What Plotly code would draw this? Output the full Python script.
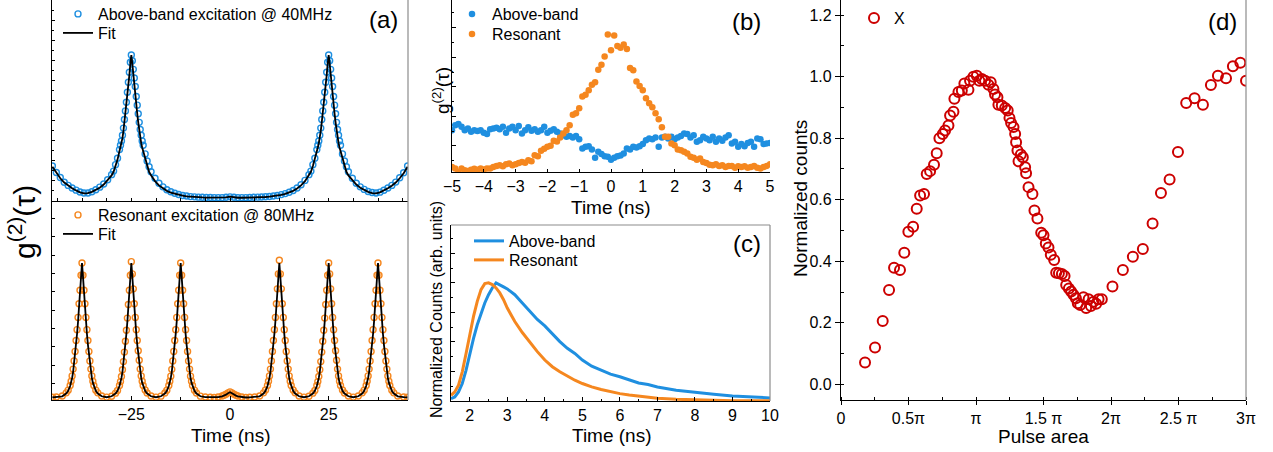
import plotly.graph_objects as go

# ---------------- data ----------------
# (a) top : above-band excitation @ 40 MHz
t_above = [-45, -44, -43, -42, -41, -40, -39, -38, -37, -36, -35, -34, -33, -32, -31, -30,
           -29.5, -29, -28.5,
           -28, -27.75, -27.5, -27.25, -27, -26.75, -26.5, -26.25, -26, -25.75, -25.5, -25.25, -25,
           -24.75, -24.5, -24.25, -24, -23.75, -23.5, -23.25, -23, -22.75, -22.5, -22.25, -22,
           -21.5, -21, -20.5,
           -20, -19, -18, -17, -16, -15, -14, -13, -12, -11, -10, -9, -8, -7, -6, -5, -4, -3, -2, -1,
           0, 1, 2, 3, 4, 5, 6, 7, 8, 9, 10, 11, 12, 13, 14, 15, 16, 17, 18, 19, 20,
           20.5, 21, 21.5,
           22, 22.25, 22.5, 22.75, 23, 23.25, 23.5, 23.75, 24, 24.25, 24.5, 24.75, 25,
           25.25, 25.5, 25.75, 26, 26.25, 26.5, 26.75, 27, 27.25, 27.5, 27.75, 28,
           28.5, 29, 29.5,
           30, 31, 32, 33, 34, 35, 36, 37, 38, 39, 40, 41, 42, 43, 44, 45]
g2_above_data = [.225, .18, .145, .112, .09, .072, .057, .044, .037, .037, .046, .06, .078, .10, .13, .165,
                 .19, .235, .28,
                 .34, .37, .40, .44, .49, .55, .61, .67, .74, .81, .88, .95, 1.0,
                 .96, .90, .84, .78, .71, .65, .59, .53, .48, .44, .40, .37,
                 .31, .26, .22,
                 .185, .14, .105, .08, .06, .046, .035, .027, .02, .016, .012, .01, .008, .007, .006, .006, .005, .005, .005, .007,
                 .01, .007, .005, .005, .005, .006, .007, .008, .009, .011, .013, .016, .02, .026, .033, .042, .055, .072, .095, .125, .165,
                 .19, .235, .28,
                 .34, .37, .40, .44, .49, .55, .61, .67, .74, .81, .88, .95, 1.0,
                 .96, .90, .84, .78, .71, .65, .59, .53, .48, .44, .40, .37,
                 .31, .26, .22,
                 .185, .14, .105, .08, .062, .048, .04, .037, .043, .056, .072, .09, .113, .143, .178, .225]
g2_above_fit = [.22, .175, .14, .11, .088, .07, .055, .042, .035, .036, .045, .058, .074, .096, .125, .16,
                .185, .225, .27,
                .33, .355, .385, .42, .47, .53, .59, .65, .72, .79, .86, .94, 1.0,
                .94, .86, .79, .72, .65, .59, .53, .47, .42, .385, .355, .33,
                .27, .225, .185,
                .16, .12, .09, .068, .052, .04, .031, .024, .018, .014, .011, .009, .007, .006, .005, .005, .004, .004, .004, .006,
                .012, .006, .004, .004, .004, .005, .005, .006, .007, .009, .011, .014, .018, .024, .031, .04, .052, .068, .09, .12, .16,
                .185, .225, .27,
                .33, .355, .385, .42, .47, .53, .59, .65, .72, .79, .86, .94, 1.0,
                .94, .86, .79, .72, .65, .59, .53, .47, .42, .385, .355, .33,
                .27, .225, .185,
                .16, .125, .096, .074, .058, .045, .036, .035, .042, .055, .07, .088, .11, .14, .175, .22]

# (a) bottom : resonant excitation @ 80 MHz
t_res = [-45, -44,
         -42.5, -41.5, -41, -40.5, -40.25, -40, -39.75, -39.5, -39.25, -39, -38.75, -38.5, -38.25, -38, -37.75,
         -37.5, -37.25, -37, -36.75, -36.5, -36.25, -36, -35.75, -35.5, -35.25, -35, -34.75, -34.5, -34, -33.5, -32.5,
         -31.25,
         -30, -29, -28.5, -28, -27.75, -27.5, -27.25, -27, -26.75, -26.5, -26.25, -26, -25.75, -25.5, -25.25,
         -25, -24.75, -24.5, -24.25, -24, -23.75, -23.5, -23.25, -23, -22.75, -22.5, -22.25, -22, -21.5, -21, -20,
         -18.75,
         -17.5, -16.5, -16, -15.5, -15.25, -15, -14.75, -14.5, -14.25, -14, -13.75, -13.5, -13.25, -13, -12.75,
         -12.5, -12.25, -12, -11.75, -11.5, -11.25, -11, -10.75, -10.5, -10.25, -10, -9.75, -9.5, -9, -8.5, -7.5,
         -6.25, -5, -4, -3, -2, -1.5, -1, -0.5, 0, 0.5, 1, 1.5, 2, 3, 4, 5, 6.25,
         7.5, 8.5, 9, 9.5, 9.75, 10, 10.25, 10.5, 10.75, 11, 11.25, 11.5, 11.75, 12, 12.25,
         12.5, 12.75, 13, 13.25, 13.5, 13.75, 14, 14.25, 14.5, 14.75, 15, 15.25, 15.5, 16, 16.5, 17.5,
         18.75,
         20, 21, 21.5, 22, 22.25, 22.5, 22.75, 23, 23.25, 23.5, 23.75, 24, 24.25, 24.5, 24.75,
         25, 25.25, 25.5, 25.75, 26, 26.25, 26.5, 26.75, 27, 27.25, 27.5, 27.75, 28, 28.5, 29, 30,
         31.25,
         32.5, 33.5, 34, 34.5, 34.75, 35, 35.25, 35.5, 35.75, 36, 36.25, 36.5, 36.75, 37, 37.25,
         37.5, 37.75, 38, 38.25, 38.5, 38.75, 39, 39.25, 39.5, 39.75, 40, 40.25, 40.5, 41, 41.5, 42.5,
         44, 45]
g2_res_data = [.013, .015,
               .022, .045, .065, .10, .13, .17, .22, .28, .35, .43, .51, .60, .70, .80, .91,
               1.0, .91, .80, .70, .60, .51, .43, .35, .28, .22, .17, .13, .10, .065, .045, .022,
               .014,
               .02, .043, .063, .10, .128, .165, .215, .275, .345, .425, .505, .595, .695, .80, .91,
               1.01, .92, .81, .70, .60, .51, .43, .355, .285, .22, .17, .13, .10, .066, .044, .022,
               .014,
               .021, .044, .064, .10, .13, .168, .218, .28, .35, .43, .51, .60, .70, .80, .91,
               1.0, .91, .80, .70, .60, .51, .43, .35, .28, .22, .168, .13, .10, .065, .044, .021,
               .015, .013, .012, .015, .022, .028, .035, .045, .052, .045, .035, .028, .022, .015, .012, .013, .015,
               .022, .045, .066, .10, .13, .17, .22, .28, .35, .43, .51, .60, .70, .81, .92,
               1.02, .92, .81, .70, .60, .51, .43, .35, .28, .22, .17, .13, .10, .066, .045, .022,
               .014,
               .02, .043, .063, .10, .128, .165, .215, .275, .345, .425, .505, .595, .695, .80, .91,
               1.0, .92, .81, .70, .60, .51, .43, .355, .285, .22, .17, .13, .10, .066, .044, .022,
               .014,
               .022, .045, .065, .10, .13, .17, .22, .28, .35, .43, .51, .60, .70, .80, .91,
               1.0, .91, .80, .70, .60, .51, .43, .35, .28, .22, .17, .13, .10, .065, .045, .022,
               .015, .013]
g2_res_fit = [.012, .014,
              .02, .04, .06, .095, .12, .155, .20, .26, .33, .40, .48, .57, .67, .78, .90,
              1.0, .90, .78, .67, .57, .48, .40, .33, .26, .20, .155, .12, .095, .06, .04, .02,
              .013,
              .02, .04, .06, .095, .12, .155, .20, .26, .33, .40, .48, .57, .67, .78, .90,
              1.0, .90, .78, .67, .57, .48, .40, .33, .26, .20, .155, .12, .095, .06, .04, .02,
              .013,
              .02, .04, .06, .095, .12, .155, .20, .26, .33, .40, .48, .57, .67, .78, .90,
              1.0, .90, .78, .67, .57, .48, .40, .33, .26, .20, .155, .12, .095, .06, .04, .02,
              .014, .012, .011, .014, .02, .025, .032, .042, .05, .042, .032, .025, .02, .014, .011, .012, .014,
              .02, .04, .06, .095, .12, .155, .20, .26, .33, .40, .48, .57, .67, .78, .90,
              1.0, .90, .78, .67, .57, .48, .40, .33, .26, .20, .155, .12, .095, .06, .04, .02,
              .013,
              .02, .04, .06, .095, .12, .155, .20, .26, .33, .40, .48, .57, .67, .78, .90,
              1.0, .90, .78, .67, .57, .48, .40, .33, .26, .20, .155, .12, .095, .06, .04, .02,
              .013,
              .02, .04, .06, .095, .12, .155, .20, .26, .33, .40, .48, .57, .67, .78, .90,
              1.0, .90, .78, .67, .57, .48, .40, .33, .26, .20, .155, .12, .095, .06, .04, .02,
              .014, .012]

# (b) zoom of g2 around tau = 0
tau_b = [-5.0, -4.9, -4.8, -4.7, -4.6, -4.5, -4.4, -4.3, -4.2, -4.1,
         -4.0, -3.9, -3.8, -3.7, -3.6, -3.5, -3.4, -3.3, -3.2, -3.1,
         -3.0, -2.9, -2.8, -2.7, -2.6, -2.5, -2.4, -2.3, -2.2, -2.1,
         -2.0, -1.9, -1.8, -1.7, -1.6, -1.5, -1.4, -1.3, -1.2, -1.1,
         -1.0, -0.9, -0.8, -0.7, -0.6, -0.5, -0.4, -0.3, -0.2, -0.1,
         0.0, 0.1, 0.2, 0.3, 0.4, 0.5, 0.6, 0.7, 0.8, 0.9,
         1.0, 1.1, 1.2, 1.3, 1.4, 1.5, 1.6, 1.7, 1.8, 1.9,
         2.0, 2.1, 2.2, 2.3, 2.4, 2.5, 2.6, 2.7, 2.8, 2.9,
         3.0, 3.1, 3.2, 3.3, 3.4, 3.5, 3.6, 3.7, 3.8, 3.9,
         4.0, 4.1, 4.2, 4.3, 4.4, 4.5, 4.6, 4.7, 4.8, 4.9, 5.0]
g2b_above = [.153, .170, .174, .165, .153, .159, .148, .153, .150, .153,
             .144, .140, .156, .159, .161, .156, .165, .144, .159, .165,
             .153, .167, .142, .153, .163, .151, .156, .148, .153, .165,
             .144, .151, .156, .148, .142, .136, .131, .133, .128, .133,
             .122, .091, .097, .099, .088, .060, .080, .072, .065, .063,
             .053, .060, .065, .067, .074, .091, .088, .097, .094, .099,
             .106, .119, .125, .122, .128, .097, .128, .131, .125, .131,
             .122, .128, .133, .142, .140, .128, .136, .114, .119, .131,
             .125, .119, .131, .114, .125, .117, .128, .136, .108, .114,
             .097, .106, .099, .110, .114, .097, .125, .122, .106, .108, .110]
g2b_res = [.028, .023, .011, .023, .017, .015, .019, .022, .019, .023,
           .020, .023, .023, .028, .032, .034, .031, .038, .040, .034,
           .038, .042, .045, .043, .051, .048, .068, .065, .083, .090,
           .097, .100, .117, .115, .128, .142, .153, .170, .205, .210,
           .227, .267, .273, .288, .307, .315, .358, .375, .403, .477,
           .424, .474, .438, .432, .443, .428, .364, .356, .318, .303,
           .288, .261, .244, .231, .210, .190, .163, .131, .131, .108,
           .102, .088, .085, .080, .074, .063, .060, .053, .057, .045,
           .042, .036, .034, .038, .032, .034, .028, .032, .032, .026,
           .031, .028, .031, .026, .028, .032, .026, .023, .028, .032, .038]

# (c) time-resolved decay
t_c = [1.5, 1.6, 1.7, 1.8, 1.9, 2.0, 2.1, 2.2, 2.3, 2.4, 2.5, 2.6, 2.7, 2.8, 2.9, 3.0,
       3.2, 3.4, 3.6, 3.8, 4.0, 4.2, 4.4, 4.6, 4.8, 5.0, 5.25, 5.5, 5.75, 6.0, 6.25, 6.5,
       6.75, 7.0, 7.5, 8.0, 8.5, 9.0, 9.5, 10.0]
counts_above = [.02, .034, .077, .148, .26, .40, .53, .645, .745, .83, .90, .957, 1.0, .986, .966, .949,
                .90, .83, .76, .69, .636, .568, .503, .446, .403, .347, .295, .261, .227, .205, .176, .153,
                .139, .119, .091, .071, .057, .043, .034, .026]
counts_res = [.048, .077, .134, .247, .40, .574, .716, .844, .943, .994, 1.0, .986, .957, .915, .858, .787,
              .673, .58, .494, .418, .347, .29, .247, .21, .176, .148, .119, .097, .077, .0625, .051, .040,
              .031, .023, .014, .0085, .0057, .003, .003, .002]

# (d) Rabi oscillation (pulse area in units of pi)
pulse_area = [0.178, 0.252, 0.309, 0.356, 0.393, 0.437, 0.469, 0.499, 0.534,
              0.561, 0.586, 0.615, 0.635, 0.66, 0.689, 0.709, 0.729, 0.754, 0.771, 0.796,
              0.808, 0.833, 0.840, 0.87, 0.895, 0.914, 0.944, 0.956, 0.981, 1.006,
              1.025, 1.043, 1.067, 1.092, 1.109, 1.129, 1.141, 1.159, 1.166, 1.191,
              1.216, 1.235, 1.248, 1.26, 1.278, 1.29, 1.297, 1.307, 1.315, 1.332,
              1.347, 1.364, 1.371, 1.389, 1.418, 1.433, 1.455, 1.483, 1.5, 1.517,
              1.537, 1.554, 1.579, 1.594, 1.614, 1.636, 1.656, 1.668, 1.688, 1.705,
              1.722, 1.74, 1.754, 1.772, 1.796, 1.816, 1.834, 1.851, 1.871, 1.89,
              1.908, 1.932, 2.011, 2.088, 2.162, 2.236, 2.308, 2.37, 2.434, 2.496,
              2.557, 2.619, 2.681, 2.74, 2.792, 2.852, 2.903, 2.958, 3.0]
norm_counts = [0.071, 0.12, 0.206, 0.307, 0.379, 0.372, 0.428, 0.496, 0.512,
               0.571, 0.614, 0.619, 0.684, 0.693, 0.714, 0.751, 0.80, 0.814, 0.825, 0.841,
               0.874, 0.886, 0.928, 0.95, 0.955, 0.978, 0.957, 0.987, 1.0, 1.003,
               0.987, 0.992, 0.987, 0.974, 0.982, 0.96, 0.942, 0.933, 0.909, 0.906,
               0.898, 0.89, 0.866, 0.849, 0.836, 0.814, 0.787, 0.76, 0.725, 0.747,
               0.738, 0.706, 0.686, 0.641, 0.619, 0.565, 0.539, 0.493, 0.485, 0.458,
               0.445, 0.421, 0.404, 0.363, 0.361, 0.359, 0.352, 0.323, 0.312, 0.302,
               0.291, 0.28, 0.264, 0.258, 0.283, 0.248, 0.277, 0.255, 0.269, 0.262,
               0.277, 0.277, 0.318, 0.372, 0.415, 0.44, 0.523, 0.622, 0.666, 0.755,
               0.914, 0.93, 0.909, 0.973, 1.003, 0.995, 1.034, 1.045, 0.987]
pulse_tickvals = [0, 0.5, 1, 1.5, 2, 2.5, 3]
pulse_ticktext = ["0", "0.5π", "π", "1.5 π", "2π", "2.5 π", "3π"]

# ---------------- style ----------------
FONT = "Arial, Liberation Sans, sans-serif"
BLUE = "#1f8fe0"
ORANGE = "#f5871f"
RED = "#cc0000"
W, H = 1273, 452


def fx(p):
    return p / W


def fy(p):
    return 1 - p / H


fig = go.Figure()

# (a) top
fig.add_trace(go.Scatter(x=t_above, y=g2_above_data, mode="markers", name="Above-band excitation @ 40MHz",
                         marker=dict(symbol="circle-open", size=6, color=BLUE, line=dict(width=1.4)),
                         xaxis="x", yaxis="y", legend="legend"))
fig.add_trace(go.Scatter(x=t_above, y=g2_above_fit, mode="lines", name="Fit",
                         line=dict(color="black", width=1.8), xaxis="x", yaxis="y", legend="legend2"))
# (a) bottom
fig.add_trace(go.Scatter(x=t_res, y=g2_res_data, mode="markers", name="Resonant excitation @ 80MHz",
                         marker=dict(symbol="circle-open", size=6, color=ORANGE, line=dict(width=1.4)),
                         xaxis="x2", yaxis="y2", legend="legend3"))
fig.add_trace(go.Scatter(x=t_res, y=g2_res_fit, mode="lines", name="Fit",
                         line=dict(color="black", width=1.8), xaxis="x2", yaxis="y2", legend="legend4"))
# (b)
fig.add_trace(go.Scatter(x=tau_b, y=g2b_above, mode="markers", name="Above-band",
                         marker=dict(size=6.5, color=BLUE), xaxis="x3", yaxis="y3", legend="legend5"))
fig.add_trace(go.Scatter(x=tau_b, y=g2b_res, mode="markers", name="Resonant",
                         marker=dict(size=6.5, color=ORANGE), xaxis="x3", yaxis="y3", legend="legend6"))
# (c)
fig.add_trace(go.Scatter(x=t_c, y=counts_above, mode="lines", name="Above-band",
                         line=dict(color=BLUE, width=3), xaxis="x4", yaxis="y4", legend="legend7"))
fig.add_trace(go.Scatter(x=t_c, y=counts_res, mode="lines", name="Resonant",
                         line=dict(color=ORANGE, width=3), xaxis="x4", yaxis="y4", legend="legend8"))
# (d)
fig.add_trace(go.Scatter(x=pulse_area, y=norm_counts, mode="markers", name="X",
                         marker=dict(symbol="circle-open", size=10, color=RED, line=dict(width=2)),
                         xaxis="x5", yaxis="y5", legend="legend9"))

tickfont = dict(family=FONT, size=16, color="black")
base = dict(showgrid=False, zeroline=False, showline=True, linecolor="black", linewidth=1.2,
            tickcolor="black", tickfont=tickfont, automargin=False)

fig.update_layout(
    width=W, height=H, margin=dict(l=0, r=0, t=0, b=0, autoexpand=False),
    paper_bgcolor="white", plot_bgcolor="white", showlegend=True,
    font=dict(family=FONT, size=16, color="black"),
    xaxis=dict(base, domain=[fx(52), fx(408)], range=[-45.1, 45.1], anchor="y",
               ticks="inside", ticklen=3, tick0=0, dtick=6.25, showticklabels=False),
    yaxis=dict(base, domain=[fy(201), 1], range=[-0.0188, 1.384], anchor="x",
               ticks="inside", ticklen=3, tick0=0.965, dtick=0.1396, showticklabels=False,
               minor=dict(ticks="inside", ticklen=2, dtick=0.0698, tick0=0.965, tickcolor="black")),
    xaxis2=dict(base, domain=[fx(52), fx(408)], range=[-45.1, 45.1], anchor="y2",
                ticks="inside", ticklen=4, tickvals=[-25, 0, 25],
                minor=dict(ticks="inside", ticklen=3, tickvals=[-37.5, -12.5, 12.5, 37.5], tickcolor="black")),
    yaxis2=dict(base, domain=[fy(400), fy(201)], range=[-0.0074, 1.456], anchor="x2",
                ticks="inside", ticklen=3, tick0=0.115, dtick=0.1348, showticklabels=False),
    xaxis3=dict(base, domain=[fx(452), fx(770)], range=[-5, 5], anchor="y3",
                ticks="inside", ticklen=3, dtick=1),
    yaxis3=dict(base, domain=[fy(172), 1], range=[0.0114, 0.594], anchor="x3",
                ticks="inside", ticklen=4, tick0=0.1, dtick=0.1, showticklabels=False,
                minor=dict(ticks="inside", ticklen=2, dtick=0.05, tickcolor="black")),
    xaxis4=dict(base, domain=[fx(451), fx(770)], range=[1.5, 10], anchor="y4",
                ticks="inside", ticklen=4, dtick=1,
                minor=dict(ticks="inside", ticklen=2, dtick=0.5, tickcolor="black")),
    yaxis4=dict(base, domain=[fy(401), fy(225)], range=[0, 1.49], anchor="x4",
                ticks="inside", ticklen=4, tick0=0, dtick=0.25, showticklabels=False,
                minor=dict(ticks="inside", ticklen=2, dtick=0.125, tickcolor="black")),
    xaxis5=dict(base, domain=[fx(841), fx(1246)], range=[0, 3], anchor="y5",
                ticks="outside", ticklen=4, tickvals=pulse_tickvals, ticktext=pulse_ticktext,
                minor=dict(ticks="inside", ticklen=3, dtick=0.25, tickcolor="black")),
    yaxis5=dict(base, domain=[fy(400), 1], range=[-0.0506, 1.249], anchor="x5",
                ticks="outside", ticklen=5, tick0=0, dtick=0.2, tickformat=".1f",
                minor=dict(ticks="inside", ticklen=3, dtick=0.1, tickcolor="black")),
)

# one legend per entry, so each row sits where the reference puts it
leg = dict(bgcolor="rgba(0,0,0,0)", borderwidth=0, xanchor="left", yanchor="middle",
           font=dict(family=FONT, size=16, color="black"), itemwidth=30, visible=True)
fig.update_layout(
    legend=dict(leg, x=fx(58), y=fy(14)),
    legend2=dict(leg, x=fx(58), y=fy(33)),
    legend3=dict(leg, x=fx(58), y=fy(215)),
    legend4=dict(leg, x=fx(58), y=fy(234)),
    legend5=dict(leg, x=fx(452), y=fy(14)),
    legend6=dict(leg, x=fx(452), y=fy(34)),
    legend7=dict(leg, x=fx(469), y=fy(241)),
    legend8=dict(leg, x=fx(469), y=fy(260)),
    legend9=dict(leg, x=fx(854), y=fy(18)),
)

# grey right / top frame lines
grey = dict(color="#8c8c8c", width=1.2)
shapes = []
for xa, ya in [("x", "y"), ("x2", "y2"), ("x5", "y5"), ("x4", "y4")]:
    shapes.append(dict(type="line", xref=f"{xa} domain", yref=f"{ya} domain", x0=1, x1=1, y0=0, y1=1, line=grey))
shapes.append(dict(type="line", xref="x4 domain", yref="y4 domain", x0=0, x1=1, y0=1, y1=1, line=grey))
fig.update_layout(shapes=shapes)


def ann(text, x, y, size, angle=0):
    return dict(text=text, x=fx(x), y=fy(y), xref="paper", yref="paper", showarrow=False,
                xanchor="center", yanchor="middle", textangle=angle,
                font=dict(family=FONT, size=size, color="black"))


fig.update_layout(annotations=[
    ann("(a)", 383, 20, 24), ann("(b)", 747, 21, 24), ann("(c)", 747, 243, 24), ann("(d)", 1222, 21, 24),
    ann("g<sup>(2)</sup>(τ)", 22, 222, 30, -90),
    ann("g<sup>(2)</sup>(τ)", 441, 91, 19, -90),
    ann("Normalized Counts (arb. units)", 436, 310, 16, -90),
    ann("Normalized counts", 801, 199, 19, -90),
    ann("Time (ns)", 231, 435, 19), ann("Time (ns)", 611, 207, 19),
    ann("Time (ns)", 612, 435, 19), ann("Pulse area", 1043, 436, 19),
])

fig.write_html("out.html", config={"displayModeBar": False},
               post_script="document.body.style.margin='0px';document.body.style.overflow='hidden';")
